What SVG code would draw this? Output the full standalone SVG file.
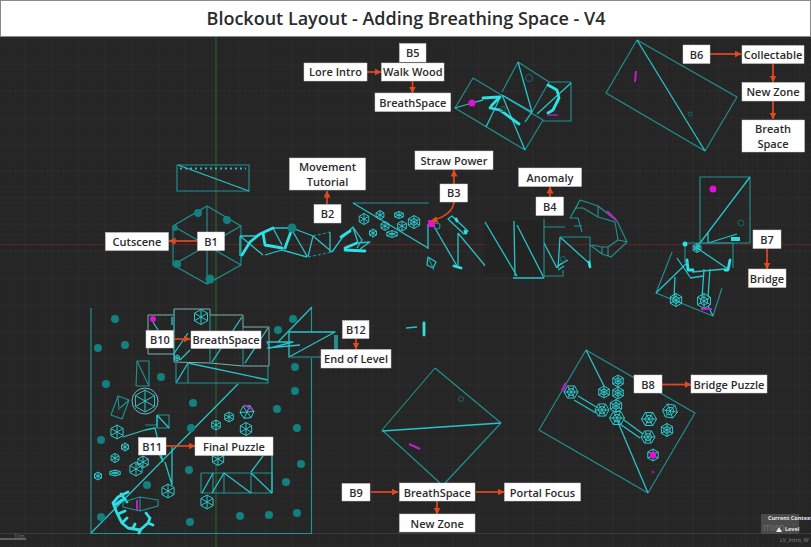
<svg xmlns="http://www.w3.org/2000/svg" width="811" height="547" viewBox="0 0 811 547">
<style>
text{font-family:"Open Sans","Noto Sans","Liberation Sans",sans-serif;font-weight:600;fill:#2b2b2b}
.lb text{font-size:11px;text-anchor:middle}
.lb rect{fill:#fff;stroke:#cfcfcf;stroke-width:.5}
.w{fill:none;stroke:#1f9496;stroke-width:1.1;stroke-linejoin:round}
.b{fill:none;stroke:#26c4c8;stroke-width:1.3;stroke-linejoin:round}
.t{fill:none;stroke:#2ee0e4;stroke-width:2.8;stroke-linejoin:round;stroke-linecap:round}
.g{fill:none;stroke:#7fb0b0;stroke-width:1}
.dk{fill:#232323;stroke:none}
.d{fill:#12807f}
.m{fill:#e010d8}
.ms{fill:none;stroke:#c020c8;stroke-width:2}
.f{fill:none;stroke:#156a68;stroke-width:1}
.a{fill:none;stroke:#e2491f;stroke-width:1.7;marker-end:url(#ah)}
.hx{fill:none;stroke:#2cc8cc;stroke-width:1;vector-effect:non-scaling-stroke}
</style>
<defs>
<marker id="ah" markerWidth="8" markerHeight="8" refX="6.500" refY="3.500" orient="auto" markerUnits="userSpaceOnUse"><path d="M0 0L7 3.500L0 7Z" fill="#e2491f"/></marker>
<pattern id="gm" width="5.34" height="5.34" patternUnits="userSpaceOnUse"><path d="M5.34 0V5.34H0" fill="none" stroke="#2b2b2b" stroke-width=".6"/></pattern>
<pattern id="gj" x="24.5" y="11" width="26.7" height="26.7" patternUnits="userSpaceOnUse"><path d="M0 0V26.7M0 0H26.7" fill="none" stroke="#333" stroke-width=".8"/></pattern>
<g id="hex"><path class="hx" d="M0-1L.87-.5V.5L0 1L-.87.5V-.5ZM0-1V1M-.87-.5L.87.5M-.87.5L.87-.5"/></g>
<g id="hex2"><path class="hx" d="M0-1L.87-.5V.5L0 1L-.87.5V-.5ZM0-1V1M-.87-.5L.87.5M-.87.5L.87-.5M0-.55L.48-.27V.27L0 .55L-.48.27V-.27Z"/></g>
</defs>
<rect width="811" height="547" fill="#252525"/>
<rect width="811" height="547" fill="url(#gm)"/>
<rect width="811" height="547" fill="url(#gj)"/>
<path d="M216 36V547" stroke="#2f6a2f" stroke-width="1" fill="none"/>
<path d="M0 244.500H811" stroke="#5a2424" stroke-width="1" fill="none"/>
<path d="M0 533.500H811" stroke="#3c3c3c" stroke-width="1" fill="none"/>

<g id="map">
<!-- B1 -->
<path class="w" d="M177 165H249V191H177Z"/><path class="b" d="M178 165L249 191"/>
<path d="M180 168.500H246" stroke="#2fb8b8" stroke-width="2.200" stroke-dasharray="2 3" fill="none"/>
<path class="w" d="M207 206L241 226V265L207 284L173 265V226Z"/>
<path class="w" d="M207 206V284M173 226L241 265M173 265L241 226"/>
<g class="d"><circle cx="198" cy="213" r="4"/><circle cx="227" cy="220" r="4"/><circle cx="175" cy="228" r="3"/><circle cx="177" cy="264" r="4"/><circle cx="210" cy="279" r="4.500"/></g>
<!-- B2 corridor -->
<path class="b" d="M240 236H255M240 236V256M240 236L263 255M265 255L282 250L307 257M273 228H292L313 236M282 245L273 228M292 230L307 256M313 236L308 257M260 234L255 236"/>
<path class="t" d="M242 255L250 242L260 234L273 228M263 233L265 245L282 248M292 229L285 248"/>
<circle class="d" cx="292" cy="228" r="4.500"/>
<path class="w" stroke-dasharray="3 2" d="M313 236L330 232M308 257L332 252"/>
<path class="b" d="M330 232V252M313 236L332 252M332 252L342 238L353 227L362 240L357 248M353 227L358 243"/>
<path class="t" d="M341 237L350 231M345 248L357 243M345 250L365 251"/>
<path class="b" d="M357 243L370 242L360 249"/>
<!-- B3 room -->
<path class="w" d="M353 203H429"/><path class="b" d="M353 203L428 248M428 224V249"/>
<g id="hexes3"><use href="#hex" transform="translate(364 219) scale(5.500)"/><use href="#hex" transform="translate(380 215) scale(4.500)"/><use href="#hex" transform="translate(385 226) scale(4.500)"/><use href="#hex" transform="translate(399 215) scale(5 3.500)"/><use href="#hex" transform="translate(402 226) scale(5)"/><use href="#hex" transform="translate(392 234) scale(6 3.500)"/><use href="#hex" transform="translate(373 233) scale(4)"/><use href="#hex2" transform="translate(414 222) scale(6.500)"/></g>
<path class="b" d="M432 223L457 266M428 257L436 262L433 268L427 265Z"/>
<path class="w" d="M428 257L434 270M437 226m-3 0a3 3 0 1 0 6 0a3 3 0 1 0-6 0"/>
<rect x="428" y="220" width="7" height="7" class="m"/>
<path class="t" d="M454 266L461 268"/>
<path class="b" d="M448 219L452 216L468 231L464 234ZM458 233V267M458 233L487 268"/>
<path class="t" d="M456 219L457 221M465 231L466 233"/>
<circle class="f" cx="490" cy="266" r="3"/>
<rect class="dk" x="485" y="222" width="28" height="52"/><rect class="dk" x="515" y="220" width="29" height="56"/>
<path class="b" d="M485 222L517 276M514 221L515 276M517 225L544 278M513 278H544"/>
<path class="w" d="M544 219V278M544 227H565M544 276H563V270"/>
<path class="b" d="M544 243L557 268M558 266L568 260M560 237L590 264M560 237L558 268"/>
<path class="w" d="M560 237H590V265"/>
<path class="t" d="M589 262L590 267"/><path class="b" d="M556 267L562 263M558 270L564 266"/>
<circle class="f" cx="563" cy="259" r="2.500"/>
<!-- B4 arc -->
<path class="w" d="M570 218L580 200L598 206L617 221L627 242L611 257L602 254L590 245M570 218L576 208L583 208L598 217L615 222L618 240L608 247L602 247L592 245M580 200L576 208M598 206L598 217M570 218H578L582 232M574 226H582M627 242L618 240M608 247V256M602 247V254"/>
<path class="ms" stroke-width="1.200" d="M607 211L616 220"/>
<!-- B5 -->
<path class="w" d="M473 78L455 108L525 150L543 120ZM502 92L518 62L549 82L532 112M549 82H571V121H543"/>
<path class="b" d="M502 95L532 112M518 62L532 112M500 98L486 127M502 95L525 150M455 108L472 103L483 100M571 83L537 114M532 112L525 122"/>
<path class="t" d="M483 98L500 97L492 105L490 108L500 110L519 124M548 85L557 90L559 98L553 110L548 113"/>
<circle class="m" cx="472" cy="103" r="3.500"/>
<path d="M547 115H558" stroke="#a028a8" stroke-width="1.500" fill="none"/>
<circle class="f" cx="529" cy="78" r="3.500"/><circle class="f" cx="503" cy="109" r="2.500"/>
<!-- B6 -->
<path class="w" d="M637 40L737 97L705 151L606 93Z"/><path class="b" d="M637 40L705 151"/>
<path class="ms" d="M636 71L635 82"/><circle class="f" cx="690" cy="114" r="2"/>
<!-- B7 -->
<path class="w" d="M700 177H750V243H700Z"/>
<path class="b" d="M750 177L697 247M708 243L737 234M708 233V243"/>
<circle class="m" cx="713" cy="189" r="3.500"/><circle class="f" cx="741" cy="223" r="3"/>
<rect x="731" y="237" width="9" height="4" fill="#2ee0e4"/>
<path class="w" d="M685 243H733V268M685 243V263"/>
<path class="b" d="M697 248L728 269M692 272L725 269"/>
<circle cx="685" cy="244" r="2.500" fill="#2ee0e4"/><use href="#hex2" transform="translate(697 248) scale(4.500)"/>
<path class="t" d="M687 260L688 270L693 270M730 260L728 270L725 270"/>
<path class="w" d="M672 252L656 293L713 316L722 288"/>
<path class="b" d="M656 293L688 262M677 258L690 277M704 269L702 298M710 269L708 297M675 277L674 298M690 278L703 276M713 316L708 306"/>
<use href="#hex2" transform="translate(676 300) scale(6.500)"/><use href="#hex2" transform="translate(704 301) scale(7.500)"/>
<path class="ms" d="M701 309H712"/>
<!-- Level -->
<path class="w" stroke-width="1.500" d="M91 308V533.500H311.500V358M311.500 332V308"/>
<path class="b" d="M312 307L278 342M238 384L91 533"/>
<g class="d"><circle cx="115" cy="319" r="4"/><circle cx="98" cy="348" r="4"/><circle cx="125" cy="345" r="4"/><circle cx="106" cy="384" r="4"/><circle cx="161" cy="377" r="4"/><circle cx="193" cy="403" r="4"/><circle cx="191" cy="428" r="4"/><circle cx="101" cy="440" r="4"/><circle cx="189" cy="470" r="4"/><circle cx="147" cy="485" r="4"/><circle cx="101" cy="517" r="4"/><circle cx="190" cy="522" r="4"/><circle cx="240" cy="516" r="4"/><circle cx="269" cy="515" r="4"/><circle cx="297" cy="513" r="4"/><circle cx="301" cy="464" r="4"/><circle cx="286" cy="482" r="4"/><circle cx="297" cy="428" r="4"/><circle cx="277" cy="409" r="4"/><circle cx="295" cy="391" r="4"/><circle cx="295" cy="367" r="4"/><circle cx="278" cy="330" r="4"/><circle cx="293" cy="319" r="4"/></g>
<!-- B10 complex -->
<path class="g" d="M148 315H173M148 315V354H173M174 309H210V315H243V327H269V366H243L210 363L174 362Z"/>
<path class="w" d="M174 309V362M210 315V363M243 327V366"/>
<path class="b" d="M188 363L268 380M176 383L188 363M242 317L212 362M268 328L245 363M173 355L188 333M153 322L158 330M172 317V325M190 350L180 360"/>
<path class="w" d="M176 383H268V366M176 363V383M188 363V383"/>
<circle class="m" cx="153" cy="319" r="3"/>
<use href="#hex" transform="translate(201 317) scale(7.500)"/>
<use href="#hex" transform="translate(177 358) scale(3)"/>
<path class="b" d="M267 342H293L270 348ZM267 348L300 345"/>
<!-- B12 -->
<path class="b" d="M289 332H335L289 357ZM335 335V350M337 335V350"/>
<path class="w" d="M289 357H321"/>
<!-- level interior -->
<path class="w" d="M137 361H149V386H136ZM118 396L129 400L122 419L111 415ZM145 425H157V415H169V428H157"/>
<path class="w" d="M137 361L149 386M118 396L119 410M129 400L120 408"/>
<circle class="g" stroke-width="1.300" cx="145" cy="401" r="13"/>
<use href="#hex" transform="translate(145 401) scale(11)"/>
<path class="b" d="M157 415L169 428M157 415V428M123 437L145 430L155 428L163 462M165 462L172 485L172 447M155 445L163 462"/>
<use href="#hex" transform="translate(117 432) scale(7)"/><use href="#hex" transform="translate(168 491) scale(7)"/><use href="#hex" transform="translate(207 502) scale(7)"/><use href="#hex" transform="translate(125 447) scale(4)"/><use href="#hex" transform="translate(115 458) scale(4.500)"/><use href="#hex" transform="translate(115 473) scale(6 3)"/><use href="#hex" transform="translate(98 476) scale(4)"/><use href="#hex" transform="translate(136 469) scale(7)"/><use href="#hex" transform="translate(143 462) scale(6)"/><use href="#hex" transform="translate(216 425) scale(5)"/><use href="#hex" transform="translate(229 417) scale(5)"/><use href="#hex" transform="translate(246 429) scale(6.500)"/><use href="#hex" transform="translate(247 412) rotate(25) scale(7)"/><use href="#hex" transform="translate(218 459) scale(6.500)"/>
<path class="ms" d="M244 405L253 410"/>
<path class="w" d="M201 473H272V493H201ZM213 473V493M224 473V493M251 473V493"/>
<path class="b" d="M213 473L202 493M224 473L212 493M224 473L251 493M251 473L272 493M263 456L251 472M272 456V493"/>
<path class="t" stroke-width="3.200" d="M128 492L118 497L113 503L117 513L122 523L128 528L140 530L148 523L150 518M121 494L127 502M115 505L122 500M118 514L125 511M122 523L127 518M133 528L135 524M141 529L139 533M148 523L153 525M149 517L146 513"/>
<path class="w" d="M123 502L140 497L158 500V506L140 511L123 507ZM140 497V511"/>
<path class="ms" d="M137 500V510"/>
<!-- B8 -->
<path class="w" d="M586 350L695 413L648 493L539 430Z"/>
<path class="b" d="M586 350L604 386M617 420L648 493M578 396L598 408M574 400L596 413M624 420L643 434M620 424L640 438"/>
<use href="#hex2" transform="translate(618 381) scale(6)"/><use href="#hex2" transform="translate(604 392) scale(6)"/><use href="#hex2" transform="translate(618 393) scale(6)"/><use href="#hex2" transform="translate(571 392) rotate(-30) scale(7)"/><use href="#hex2" transform="translate(602 410) rotate(-30) scale(7)"/><use href="#hex2" transform="translate(616 406) scale(6.500)"/><use href="#hex2" transform="translate(617 418) rotate(-30) scale(7.500)"/><use href="#hex2" transform="translate(648 437) rotate(-30) scale(7)"/><use href="#hex2" transform="translate(649 419) rotate(-30) scale(7.500)"/><use href="#hex2" transform="translate(670 411) rotate(-20) scale(7.500)"/><use href="#hex2" transform="translate(667 430) scale(6.500)"/><use href="#hex" transform="translate(653 455) scale(6)"/>
<rect x="650" y="452" width="6" height="6" class="m"/>
<path d="M562 391L566 383" stroke="#a028b8" stroke-width="3" fill="none"/>
<circle cx="653" cy="472" r="1.500" fill="#8a208e"/>
<!-- B9 -->
<path class="w" d="M435 368L501 423L445 483M435 368L382 430L440 483"/>
<path class="b" d="M382 431L501 423M406 328L417 327"/>
<path class="t" stroke-width="1.800" d="M424 323V335"/>
<path class="ms" d="M409 444L420 449"/>
<circle class="f" cx="461" cy="399" r="2.500"/>
<!-- HUD -->
<rect x="761" y="514" width="38" height="20" fill="#4a4a4a"/>
<text x="763" y="531" font-size="10" style="fill:#707070;font-weight:400">miro</text>
<text x="768" y="520" font-size="5.500" style="fill:#e8e8e8;font-weight:700">Current Context</text>
<path d="M776 532L779 527L782 532Z" fill="#e8e8e8"/>
<text x="785" y="531" font-size="5.500" style="fill:#e8e8e8;font-weight:700">Level</text>
<text x="780" y="542" font-size="5.500" style="fill:#8a8a8a;font-weight:400">LV_Intro_W</text>
<text x="14" y="538" font-size="5" style="fill:#7a7a7a;font-weight:400">10m</text>
<path d="M0 539H26" stroke="#9a9a9a" stroke-width="1" fill="none"/>
</g>

<g id="connectors">
<path class="a" d="M197 241H169"/>
<path class="a" d="M327 204V191"/>
<path class="a" d="M367 72H381"/>
<path class="a" d="M412.500 81V93"/>
<path class="a" d="M454 184V170"/>
<path class="a" d="M454 202C453 212 442 218 431 221"/>
<path class="a" d="M550 197V187"/>
<path class="a" d="M710 54H741"/>
<path class="a" d="M773 64V82"/>
<path class="a" d="M773 101V119"/>
<path class="a" d="M767 248.500V269"/>
<path class="a" d="M174 339H190"/>
<path class="a" d="M356 339V349"/>
<path class="a" d="M166 446H195"/>
<path class="a" d="M371 492H398"/>
<path class="a" d="M476 492H504"/>
<path class="a" d="M437 501V514"/>
<path class="a" d="M662 384.500H691"/>
</g>

<g id="title"><rect x="0.500" y="0.500" width="810" height="36" fill="#fff" stroke="#8a8a8a"/><text x="406" y="25" font-size="18" text-anchor="middle">Blockout Layout - Adding Breathing Space - V4</text></g>

<g class="lb">
<g id="n-cutscene"><rect x="105.500" y="232.500" width="63" height="18"/><text x="137" y="245.500">Cutscene</text></g>
<g id="n-b1"><rect x="197.500" y="232" width="27" height="18.500"/><text x="211" y="245.500">B1</text></g>
<g id="n-b2"><rect x="314" y="204.500" width="27" height="18.500"/><text x="327.500" y="218">B2</text></g>
<g id="n-movement"><rect x="289.500" y="158" width="76" height="32"/><text x="327.500" y="171">Movement</text><text x="327.500" y="186">Tutorial</text></g>
<g id="n-lore"><rect x="304" y="63" width="63" height="18"/><text x="335.500" y="76">Lore Intro</text></g>
<g id="n-b5"><rect x="399.500" y="43.500" width="26.500" height="18.500"/><text x="412.800" y="57">B5</text></g>
<g id="n-walk"><rect x="381.500" y="63" width="62.500" height="18"/><text x="412.800" y="76">Walk Wood</text></g>
<g id="n-bs5"><rect x="375" y="93" width="75.700" height="18.500"/><text x="412.800" y="106.500">BreathSpace</text></g>
<g id="n-straw"><rect x="415" y="151" width="78" height="18.500"/><text x="454" y="164.500">Straw Power</text></g>
<g id="n-b3"><rect x="440" y="184" width="27.500" height="18"/><text x="453.800" y="197">B3</text></g>
<g id="n-anomaly"><rect x="518.700" y="168" width="62.800" height="18.500"/><text x="550" y="181.500">Anomaly</text></g>
<g id="n-b4"><rect x="536" y="197" width="27.500" height="18.500"/><text x="549.800" y="210.500">B4</text></g>
<g id="n-b6"><rect x="683" y="45" width="27" height="18.500"/><text x="696.500" y="58.500">B6</text></g>
<g id="n-collect"><rect x="742" y="45.500" width="62" height="18"/><text x="773" y="58.500">Collectable</text></g>
<g id="n-zone6"><rect x="742" y="82.500" width="62.500" height="18.500"/><text x="773" y="96">New Zone</text></g>
<g id="n-breath"><rect x="742" y="120" width="62.500" height="32"/><text x="773" y="133">Breath</text><text x="773" y="148">Space</text></g>
<g id="n-b7"><rect x="753" y="230" width="28" height="18.500"/><text x="767" y="243.500">B7</text></g>
<g id="n-bridge"><rect x="748.500" y="269" width="37.500" height="18.500"/><text x="767" y="282.500">Bridge</text></g>
<g id="n-b10"><rect x="146" y="330.500" width="27.500" height="17.500"/><text x="159.800" y="343.500">B10</text></g>
<g id="n-bs10"><rect x="191" y="331" width="70" height="17.500"/><text x="226" y="343.500">BreathSpace</text></g>
<g id="n-b12"><rect x="342.500" y="320.500" width="26.500" height="18"/><text x="355.800" y="333.500">B12</text></g>
<g id="n-end"><rect x="321" y="349.500" width="70" height="18.500"/><text x="356" y="363">End of Level</text></g>
<g id="n-b11"><rect x="138.500" y="437.500" width="27.500" height="17.500"/><text x="152.200" y="450.500">B11</text></g>
<g id="n-final"><rect x="195" y="437" width="78" height="18.500"/><text x="234" y="450.500">Final Puzzle</text></g>
<g id="n-b9"><rect x="342" y="483.500" width="28" height="17.500"/><text x="356" y="496.500">B9</text></g>
<g id="n-bs9"><rect x="399.500" y="483" width="75.500" height="18"/><text x="437.200" y="496.500">BreathSpace</text></g>
<g id="n-portal"><rect x="504.500" y="483" width="76" height="18"/><text x="542.500" y="496.500">Portal Focus</text></g>
<g id="n-zone9"><rect x="399.500" y="514" width="75.500" height="18"/><text x="437.200" y="527.500">New Zone</text></g>
<g id="n-b8"><rect x="634" y="375" width="28" height="18"/><text x="648" y="388.500">B8</text></g>
<g id="n-bridgep"><rect x="691" y="375" width="76" height="18"/><text x="729" y="388.500">Bridge Puzzle</text></g>
</g>
</svg>
